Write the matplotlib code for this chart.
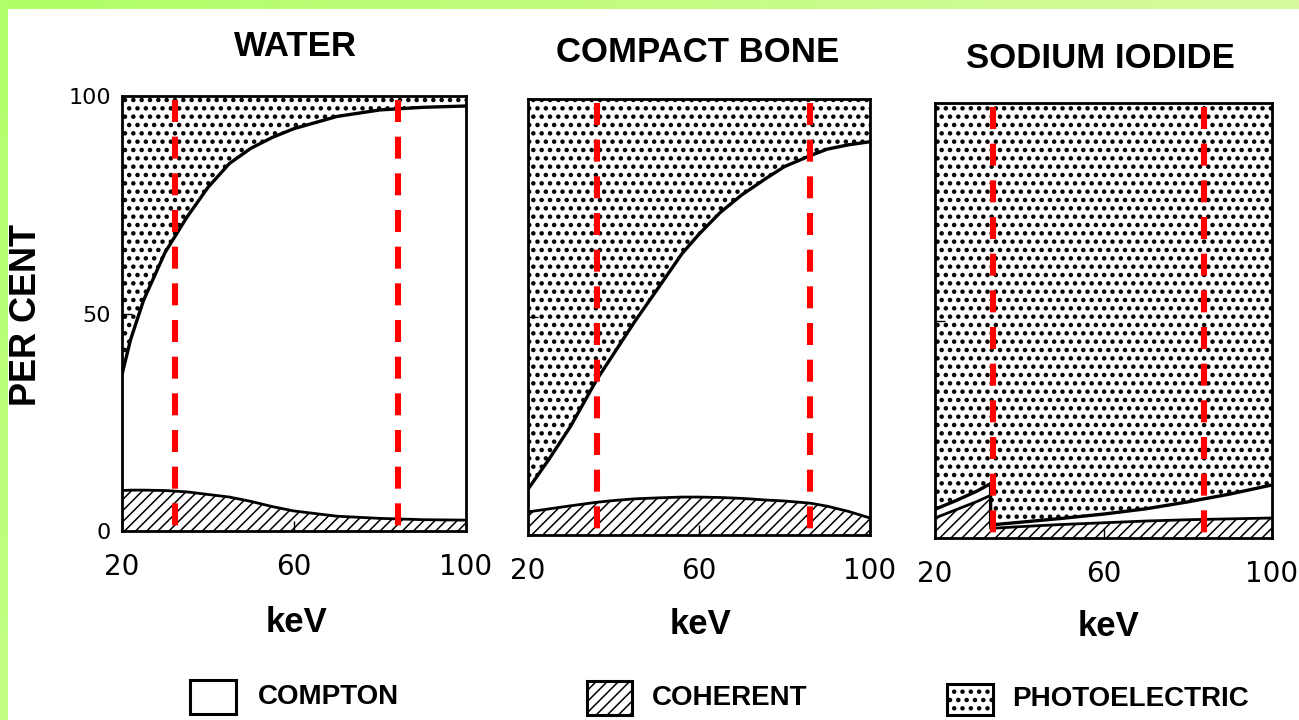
import matplotlib
matplotlib.use("Agg")
import matplotlib.pyplot as plt
import numpy as np
from matplotlib.patches import Rectangle

W, H = 1299, 720

# energy (keV), coherent share (%), coherent + compton share (%); photoelectric fills up to 100
WATER_E = [20, 22, 25, 30, 35, 40, 45, 50, 55, 60, 70, 80, 90, 100]
WATER_COH = [9.3, 9.4, 9.4, 9.3, 9.0, 8.4, 7.8, 6.8, 5.6, 4.6, 3.4, 2.9, 2.6, 2.5]
WATER_CMP = [36, 44, 53, 64, 72, 79, 84.5, 88, 90.5, 92.5, 95.3, 96.8, 97.4, 97.7]

BONE_E = [20, 25, 30, 36, 40, 45, 50, 56, 60, 65, 70, 76, 80, 86, 90, 95, 100]
BONE_COH = [5.3, 6.0, 6.7, 7.5, 7.9, 8.3, 8.5, 8.7, 8.7, 8.6, 8.4, 8.0, 7.8, 7.3, 6.6, 5.4, 3.9]
BONE_CMP = [10.5, 17.5, 25, 35.5, 41.5, 49, 56, 64.5, 69, 74, 78, 82, 84.5, 87, 88.5, 89.5, 90.2]

NAI_E = [20, 25, 30, 33.2, 33.2, 40, 50, 60, 70, 80, 90, 100]
NAI_COH = [4.6, 6.5, 8.4, 9.8, 2.2, 2.6, 3.1, 3.5, 3.9, 4.2, 4.4, 4.6]
NAI_CMP = [6.6, 8.6, 10.8, 12.5, 3.0, 3.6, 4.5, 5.5, 6.7, 8.3, 10.1, 12.2]

MARKERS = {"WATER": [32.3, 84.2], "COMPACT BONE": [36.1, 86.0], "SODIUM IODIDE": [33.7, 83.9]}

X_TICKS = [20, 60, 100]
Y_TICKS = [0, 50, 100]
LEGEND = ["COMPTON", "COHERENT", "PHOTOELECTRIC"]

TITLE_FONT = ["Liberation Sans", "DejaVu Sans"]
COH_HATCH, COH_LW = "///", 1.1
PHOTO_HATCH, PHOTO_LW = "..", 2.0

plt.rcParams["hatch.color"] = "black"


def fx(x):
    return x / W


def fy(y):
    return 1 - y / H


def panel(fig, left, top, right, bottom):
    return fig.add_axes([fx(left), fy(bottom), fx(right - left), (bottom - top) / H])


def hatch_fill(ax, x, y1, y2, hatch, lw):
    with plt.rc_context({"hatch.linewidth": lw}):
        coll = ax.fill_between(x, y1, y2, facecolor="white", edgecolor="black",
                               hatch=hatch, linewidth=0)
    if hasattr(coll, "set_hatch_linewidth"):
        coll.set_hatch_linewidth(lw)
    return coll


def draw_panel(ax, name, e, coh, cmp_, show_y):
    e = np.array(e)
    coh = np.array(coh)
    cmp_ = np.array(cmp_)
    hatch_fill(ax, e, 0, coh, COH_HATCH, COH_LW)
    hatch_fill(ax, e, cmp_, 100, PHOTO_HATCH, PHOTO_LW)
    ax.plot(e, coh, color="black", lw=2.0, solid_capstyle="butt")
    ax.plot(e, cmp_, color="black", lw=2.4, solid_capstyle="butt")
    for xm in MARKERS[name]:
        ax.plot([xm, xm], [99, 1], color="#ff0000", lw=4.4, dashes=(3.6, 2.4))
    ax.set_xlim(20, 100)
    ax.set_ylim(0, 100)
    for s in ax.spines.values():
        s.set_linewidth(2.0)
    ax.set_xticks(X_TICKS)
    ax.set_xticklabels([str(v) for v in X_TICKS], fontsize=20)
    ax.set_yticks(Y_TICKS)
    if show_y:
        ax.set_yticklabels([str(v) for v in Y_TICKS], fontsize=16)
    else:
        ax.set_yticklabels([])
    ax.tick_params(axis="both", direction="in", length=7, width=1.0)
    ax.tick_params(axis="x", pad=16)
    ax.tick_params(axis="y", pad=8)


fig = plt.figure(figsize=(W / 100, H / 100), dpi=100, facecolor="white")

# green frame of the scanned slide
top_band = fig.add_axes([0, fy(9), 1, 9 / H])
grad = np.linspace(0, 1, 256)
top_rgb = np.array([[0.69, 1.0, 0.40]]) * (1 - grad[:, None]) + np.array([[0.84, 0.98, 0.62]]) * grad[:, None]
top_band.imshow(top_rgb[None, :, :], aspect="auto")
top_band.axis("off")
left_band = fig.add_axes([0, 0, fx(8), 1])
left_rgb = np.array([[0.70, 1.0, 0.42]]) * (1 - grad[:, None]) + np.array([[0.76, 1.0, 0.52]]) * grad[:, None]
left_band.imshow(left_rgb[:, None, :], aspect="auto")
left_band.axis("off")

ax1 = panel(fig, 122, 96, 466, 531)
ax2 = panel(fig, 528, 99, 870, 535)
ax3 = panel(fig, 935, 103, 1272, 538)

draw_panel(ax1, "WATER", WATER_E, WATER_COH, WATER_CMP, True)
draw_panel(ax2, "COMPACT BONE", BONE_E, BONE_COH, BONE_CMP, False)
draw_panel(ax3, "SODIUM IODIDE", NAI_E, NAI_COH, NAI_CMP, False)

for (cx, cy), name in zip([(295, 47), (698, 52), (1100, 58)], MARKERS):
    fig.text(fx(cx), fy(cy), name, family=TITLE_FONT, weight="bold", fontsize=25,
             ha="center", va="center")

for cx, cy in [(296, 622), (700, 624), (1108, 626)]:
    fig.text(fx(cx), fy(cy), "keV", family=TITLE_FONT, weight="bold", fontsize=25,
             ha="center", va="center")

fig.text(fx(27), fy(315), "PER CENT", family=TITLE_FONT, weight="bold", fontsize=26,
         rotation=90, ha="center", va="center")

# legend boxes
boxes = [(190, 680, 46, 34, None, 1.0), (587, 681, 45, 34, COH_HATCH, COH_LW),
         (947, 684, 46, 31, PHOTO_HATCH, PHOTO_LW)]
text_x = [258, 652, 1012]
for (bx, by, bw, bh, hatch, hlw), label, tx in zip(boxes, LEGEND, text_x):
    with plt.rc_context({"hatch.linewidth": hlw}):
        rect = Rectangle((fx(bx), fy(by + bh)), fx(bw), bh / H, transform=fig.transFigure,
                         facecolor="white", edgecolor="black", linewidth=2.2, hatch=hatch)
    fig.add_artist(rect)
    fig.text(fx(tx), fy(by + bh / 2), label, family=TITLE_FONT, weight="bold",
             fontsize=20, ha="left", va="center")

fig.savefig("out.png", dpi=100, facecolor="white")
